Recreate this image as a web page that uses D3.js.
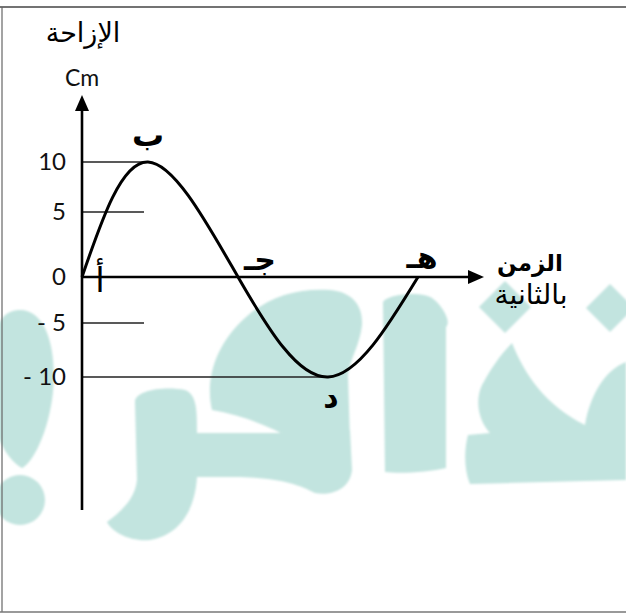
<!DOCTYPE html>
<html>
<head>
<meta charset="utf-8">
<script src="https://cdn.jsdelivr.net/npm/d3@7"></script>
<style>
  html, body { margin: 0; padding: 0; background: #fff; }
  svg { display: block; }
</style>
</head>
<body>
<svg id="chart" width="626" height="613"></svg>
<script>
// Data
const times = [0, 1, 2, 3, 4];
const displacement = [0, 10, 0, -10, 0];
const pointLabels = ['أ', 'ب', 'جـ', 'د', 'هـ'];
const yTicks = [10, 5, 0, -5, -10];
const yTickLabels = ['10', '5', '0', '- 5', '- 10'];
const guideEnds = [1, 1, null, 1, 3]; // time where each guide line stops (null = none)

const W = 626, H = 613;
const svg = d3.select('#chart');

// hand-drawn axes are not evenly spaced, so use piecewise scales
const x = d3.scaleLinear().domain([0, 1, 4]).range([82, 148, 418]);
const y = d3.scaleLinear().domain([-10, -5, 0, 5, 10]).range([377, 323, 277, 212, 162]);

// watermark (background logo)
const defs = svg.append('defs');
defs.append('filter').attr('id', 'soft')
  .append('feGaussianBlur').attr('stdDeviation', 1);
const wm = svg.append('g').attr('fill', '#c2e4df').attr('filter', 'url(#soft)');
[
  'M20,310 C50,310 58,360 52,400 C46,440 30,465 22,468 C5,460 -15,420 -12,380 C-10,330 0,310 20,310 Z',
  'M135,402 C135,390 165,386 185,390 C197,395 197,410 197,433 L300,433 L350,430 L352,470 C350,490 330,496 315,493 C300,485 280,478 240,477 L197,477 C195,510 180,535 150,540 C130,542 112,532 107,522 C120,512 135,500 137,480 Z',
  'M212,410 C205,380 215,345 245,318 C270,295 300,288 330,290 C352,292 363,305 362,325 C360,345 350,358 348,375 L350,440 L300,444 C270,425 240,415 212,410 Z',
  'M383,303 C383,295 420,290 432,298 C442,305 452,322 446,327 L446,468 C430,472 400,474 385,472 Z',
  'M505,281 L531,307 L505,333 L479,307 Z',
  'M610,284 L634,308 L610,332 L586,308 Z',
  'M512,343 C525,375 545,405 585,425 C590,395 605,370 626,362 L626,480 L470,484 C464,470 464,450 468,435 L490,433 C478,420 475,400 482,385 C490,370 500,355 512,343 Z'
].forEach(d => wm.append('path').attr('d', d));
wm.append('circle').attr('cx', 20).attr('cy', 500).attr('r', 25);

// frame of the scanned page
svg.append('line').attr('x1', 0).attr('x2', W).attr('y1', 7).attr('y2', 7)
  .attr('stroke', '#444').attr('stroke-width', 1.5);
svg.append('line').attr('x1', 2).attr('x2', 2).attr('y1', 7).attr('y2', 612)
  .attr('stroke', '#666').attr('stroke-width', 1.2);
svg.append('line').attr('x1', 0).attr('x2', W).attr('y1', 612).attr('y2', 612)
  .attr('stroke', '#777').attr('stroke-width', 1.5);

// guide lines from the y axis to the curve
yTicks.forEach((v, i) => {
  if (guideEnds[i] === null) return;
  svg.append('line')
    .attr('x1', x(0)).attr('x2', x(guideEnds[i]) - 4)
    .attr('y1', y(v)).attr('y2', y(v))
    .attr('stroke', '#222').attr('stroke-width', 1.3);
});

// y tick labels
const yAxis = svg.append('g')
  .attr('transform', `translate(${x(0)},0)`)
  .call(d3.axisLeft(y).tickValues(yTicks)
    .tickFormat((d, i) => yTickLabels[i]).tickSize(0).tickPadding(16));
yAxis.select('.domain').remove();
yAxis.selectAll('text')
  .attr('font-family', 'Lato, "Open Sans", sans-serif')
  .attr('font-size', 24).attr('fill', '#111');

// axes with arrows
svg.append('line').attr('x1', x(0)).attr('x2', x(0)).attr('y1', 104).attr('y2', 510)
  .attr('stroke', '#000').attr('stroke-width', 2.6);
svg.append('path').attr('d', `M${x(0)},95 L${x(0) + 7},111 L${x(0) - 7},111 Z`).attr('fill', '#000');
svg.append('line').attr('x1', x(0)).attr('x2', 472).attr('y1', y(0)).attr('y2', y(0))
  .attr('stroke', '#000').attr('stroke-width', 2.6);
svg.append('path').attr('d', `M484,${y(0)} L468,${y(0) - 7} L468,${y(0) + 7} Z`).attr('fill', '#000');

// the displacement curve
const pts = times.map((t, i) => [t, displacement[i]]);
svg.append('path')
  .datum(pts)
  .attr('fill', 'none').attr('stroke', '#000').attr('stroke-width', 3)
  .attr('d', d3.line().x(d => x(d[0])).y(d => y(d[1])).curve(d3.curveNatural));

// point letters
const labelOffset = [[18, 15], [0, -16], [22, -7], [3, 30], [4, -9]];
const labelSize = [34, 32, 30, 30, 30];
const arab = '"DejaVu Sans", sans-serif';
pts.forEach((p, i) => {
  svg.append('text')
    .attr('x', x(p[0]) + labelOffset[i][0])
    .attr('y', y(p[1]) + labelOffset[i][1])
    .attr('text-anchor', 'middle')
    .attr('font-family', arab)
    .attr('font-weight', i === 0 ? 'normal' : 'bold')
    .attr('font-size', labelSize[i])
    .attr('fill', '#000')
    .text(pointLabels[i]);
});

// axis titles
svg.append('text').attr('x', 83).attr('y', 42).attr('text-anchor', 'middle')
  .attr('font-family', arab).attr('font-size', 27).attr('fill', '#000').text('الإزاحة');
svg.append('text').attr('x', 82).attr('y', 86).attr('text-anchor', 'middle')
  .attr('font-family', 'Lato, sans-serif').attr('font-size', 23).attr('fill', '#111').text('Cm');
svg.append('text').attr('x', 530).attr('y', 271).attr('text-anchor', 'middle')
  .attr('font-family', arab).attr('font-weight', 'bold').attr('font-size', 23).attr('fill', '#000').text('الزمن');
svg.append('text').attr('x', 531).attr('y', 304).attr('text-anchor', 'middle')
  .attr('font-family', arab).attr('font-size', 28).attr('fill', '#000').text('بالثانية');
</script>
</body>
</html>
